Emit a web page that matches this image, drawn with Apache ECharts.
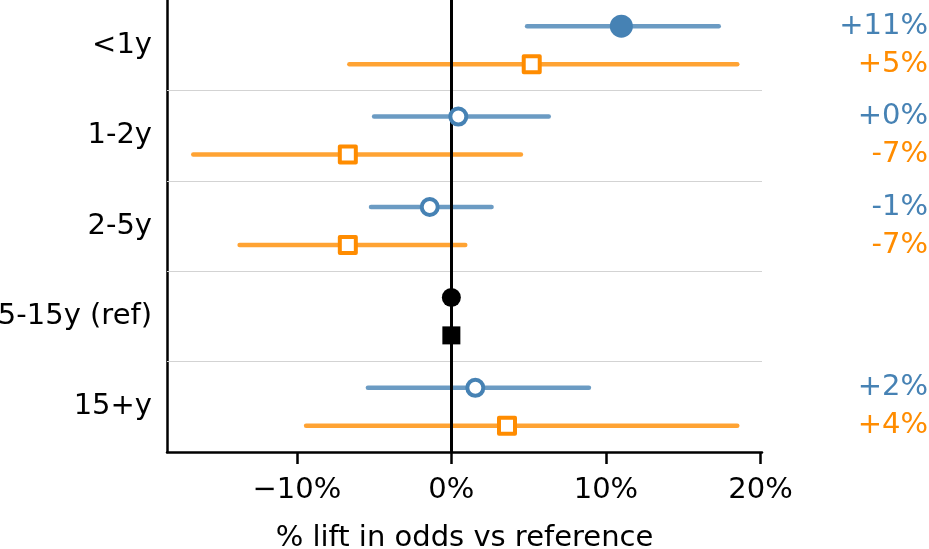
<!DOCTYPE html>
<html>
<head>
<meta charset="utf-8">
<script src="https://cdn.jsdelivr.net/npm/echarts@6/dist/echarts.min.js"></script>
<style>
  html, body { margin: 0; padding: 0; background: #fff; }
  #chart { width: 929px; height: 549px; }
</style>
</head>
<body>
<div id="chart"></div>
<script>
// 分组（从上到下）
const groups = ["<1y", "1-2y", "2-5y", "5-15y (ref)", "15+y"];
const refIndex = 3;

// 蓝色组：点估计与置信区间（%）
const blueEst = [11.0, 0.45, -1.4, 0, 1.55];
const blueLo = [4.9, -5.0, -5.2, null, -5.4];
const blueHi = [17.3, 6.3, 2.6, null, 8.9];
const blueFilled = [true, false, false, true, false];

// 橙色组
const orangeEst = [5.2, -6.7, -6.7, 0, 3.6];
const orangeLo = [-6.6, -16.7, -13.7, null, -9.4];
const orangeHi = [18.5, 4.5, 0.9, null, 18.5];

const xTicks = [-10, 0, 10, 20];

const BLUE = "#4682b4";
const ORANGE = "#ff8c00";
const FONT = "DejaVu Sans";
const FS = 29;
const OFF = 0.21;

const chart = echarts.init(document.getElementById("chart"));

const fmtPct = (v) => {
  const r = Math.round(v);
  return (r >= 0 ? "+" : "-") + Math.abs(r) + "%";
};

// 置信区间线数据
const ciData = (lo, hi, off) =>
  groups
    .map((g, i) => (lo[i] == null ? null : [lo[i], hi[i], i + off]))
    .filter((d) => d);

const ciRender = (color) => (params, api) => {
  const a = api.coord([api.value(0), api.value(2)]);
  const b = api.coord([api.value(1), api.value(2)]);
  return {
    type: "line",
    shape: { x1: a[0], y1: a[1], x2: b[0], y2: b[1] },
    style: { stroke: color, lineWidth: 4.5, lineCap: "round", opacity: 0.8 },
  };
};

const blueMarks = groups.map((g, i) => {
  const isRef = i === refIndex;
  const filled = blueFilled[i];
  const c = isRef ? "#000" : BLUE;
  return {
    value: [blueEst[i], i - OFF],
    symbol: "circle",
    symbolSize: isRef ? 19 : filled ? 23 : 16,
    itemStyle: filled
      ? { color: c, opacity: 1 }
      : { color: "#fff", borderColor: c, borderWidth: 4, opacity: 1 },
  };
});

const orangeMarks = groups.map((g, i) => {
  const isRef = i === refIndex;
  return {
    value: [orangeEst[i], i + OFF],
    symbol: "rect",
    symbolSize: isRef ? 18 : 16,
    itemStyle: isRef
      ? { color: "#000", opacity: 1 }
      : { color: "#fff", borderColor: ORANGE, borderWidth: 4, borderJoin: "round", opacity: 1 },
  };
});

// 右侧文字标签
const labelData = [];
groups.forEach((g, i) => {
  if (i === refIndex) return;
  labelData.push([blueEst[i], i - OFF, fmtPct(blueEst[i]), BLUE]);
  labelData.push([orangeEst[i], i + OFF, fmtPct(orangeEst[i]), ORANGE]);
});

const option = {
  animation: false,
  grid: { left: 167, right: 167, top: 0, bottom: 97, outerBoundsMode: "none", containLabel: false },
  xAxis: {
    type: "value",
    min: -18.4,
    max: 20.1,
    axisLine: { show: true, onZero: false, lineStyle: { color: "#000", width: 2.5 } },
    axisTick: {
      show: true,
      length: 12,
      customValues: xTicks,
      lineStyle: { color: "#000", width: 2.5 },
    },
    axisLabel: {
      customValues: xTicks,
      fontSize: FS,
      fontFamily: FONT,
      color: "#000",
      margin: 24,
      formatter: (v) => (v < 0 ? "\u2212" + Math.abs(v) + "%" : v + "%"),
    },
    splitLine: { show: false },
    name: "% lift in odds vs reference",
    nameLocation: "middle",
    nameGap: 72,
    nameTextStyle: { fontSize: FS, fontFamily: FONT, color: "#000" },
  },
  yAxis: [
    {
      type: "category",
      data: groups,
      inverse: true,
      axisLine: { show: true, onZero: false, lineStyle: { color: "#000", width: 2.5 } },
      axisTick: { show: false },
      axisLabel: { fontSize: FS, fontFamily: FONT, color: "#000", margin: 15 },
      splitLine: { show: false },
    },
    {
      type: "value",
      min: -0.5,
      max: 4.5,
      inverse: true,
      show: false,
      splitLine: { show: false },
    },
  ],
  series: [
    {
      // 分隔线
      type: "scatter",
      yAxisIndex: 1,
      data: [],
      z: 1,
      markLine: {
        silent: true,
        symbol: "none",
        z: 1,
        label: { show: false },
        lineStyle: { color: "#d3d3d3", width: 1.2, type: "solid", opacity: 1 },
        data: [{ yAxis: 0.5 }, { yAxis: 1.5 }, { yAxis: 2.5 }, { yAxis: 3.5 }],
      },
    },
    {
      type: "custom",
      yAxisIndex: 1,
      z: 2,
      renderItem: ciRender(BLUE),
      data: ciData(blueLo, blueHi, -OFF),
    },
    {
      type: "custom",
      yAxisIndex: 1,
      z: 2,
      renderItem: ciRender(ORANGE),
      data: ciData(orangeLo, orangeHi, OFF),
    },
    {
      // 零线
      type: "scatter",
      yAxisIndex: 1,
      data: [],
      z: 3,
      markLine: {
        silent: true,
        symbol: "none",
        z: 3,
        label: { show: false },
        lineStyle: { color: "#000", width: 3, type: "solid", opacity: 1 },
        data: [{ xAxis: 0 }],
      },
    },
    { type: "scatter", yAxisIndex: 1, z: 4, data: blueMarks },
    { type: "scatter", yAxisIndex: 1, z: 4, data: orangeMarks },
    {
      type: "custom",
      yAxisIndex: 1,
      z: 5,
      clip: false,
      renderItem: (params, api) => {
        const p = api.coord([0, api.value(1)]);
        const d = labelData[params.dataIndex];
        return {
          type: "text",
          x: api.getWidth() - 1,
          y: p[1],
          style: {
            text: d[2],
            fill: d[3],
            font: FS + "px " + FONT,
            align: "right",
            verticalAlign: "middle",
          },
        };
      },
      data: labelData.map((d) => [d[0], d[1]]),
    },
  ],
};

chart.setOption(option);
window.addEventListener("resize", () => chart.resize());
</script>
</body>
</html>
